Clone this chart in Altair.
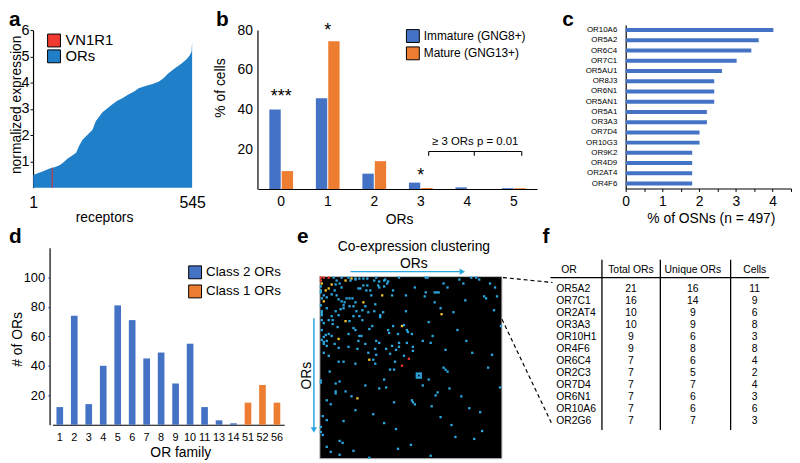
import altair as alt
import pandas as pd

FONT = "Liberation Sans"
W, H = 792, 455
M = 8


def X(v):
    return v - M


def Y(v):
    return v - M


# ---------------- panel a ----------------
a_receptor = [1, 12, 35, 57, 66, 74, 91, 103, 119, 131, 148, 159, 170, 187, 204, 215, 227, 238,
              255, 272, 289, 306, 328, 345, 362, 385, 407, 430, 447, 464, 486, 509, 526, 537, 543, 545]
a_expr = [0.48, 0.53, 0.63, 0.73, 0.76, 0.78, 0.86, 0.95, 1.11, 1.20, 1.33, 1.62, 1.83, 2.02, 2.21,
          2.53, 2.71, 2.88, 3.03, 3.18, 3.31, 3.41, 3.56, 3.66, 3.79, 3.88, 3.94, 4.04, 4.17, 4.36,
          4.55, 4.73, 4.90, 5.05, 5.18, 5.56]
a_legend = ["VN1R1", "ORs"]
a_vn1r1_receptor = [66]
a_vn1r1_expr = [0.76]

# ---------------- panel b ----------------
b_ors = ["0", "1", "2", "3", "4", "5"]
b_stage = ["Immature (GNG8+)", "Mature (GNG13+)"]
b_immature = [40.0, 45.7, 7.7, 3.2, 0.8, 0.4]
b_mature = [9.0, 74.4, 14.0, 0.5, 0.0, 0.4]
b_star_text = ["***", "*", "*"]
b_star_x = [0, 1, 3]
b_star_y = [43.7, 77.2, 4.1]
b_bracket_x = [3.17, 5.17]
b_bracket_ticks = [3.17, 4.15, 5.17]
b_bracket_y = [18.9, 16.7]
b_bracket_label = "\u2265 3 ORs p = 0.01"
b_bracket_label_pos = [4.17, 22.2]

# ---------------- panel c ----------------
c_or = ["OR10A6", "OR5A2", "OR6C4", "OR7C1", "OR5AU1", "OR8J3", "OR6N1", "OR5AN1",
        "OR5A1", "OR3A3", "OR7D4", "OR10G3", "OR9K2", "OR4D9", "OR2AT4", "OR4F6"]
c_pct = [4.02, 3.62, 3.42, 3.02, 2.62, 2.41, 2.41, 2.41, 2.21, 2.21, 2.01, 2.01, 1.81, 1.81, 1.81, 1.81]

# ---------------- panel d ----------------
d_family = ["1", "2", "3", "4", "5", "6", "7", "8", "9", "10", "11", "13", "14", "51", "52", "56"]
d_count = [12, 74, 14, 40, 81, 71, 45, 49, 28, 55, 12, 3, 1, 15, 27, 15]
d_class = ["Class 2 ORs"] * 13 + ["Class 1 ORs"] * 3
d_legend = ["Class 2 ORs", "Class 1 ORs"]

# ---------------- panel e (co-expression matrix, OR rank units) ----------------
heat_dots = [
    (1, 1, "high"), (4, 1, "high"), (9, 1, "high"), (14, 1, "low"), (22, 1, "low"), (29, 1, "low"),
    (32, 2, "mid"), (36, 2, "low"), (36, 3, "low"), (40, 2, "low"), (44, 2, "low"), (48, 2, "low"),
    (57, 1, "low"), (66, 3, "low"), (80, 1, "low"),
    (1, 4, "high"), (17, 4, "low"), (26, 4, "mid"), (31, 4, "low"), (55, 4, "low"), (60, 5, "low"),
    (65, 4, "low"), (69, 5, "low"),
    (2, 7, "mid"), (12, 8, "mid"), (16, 8, "low"), (20, 7, "low"), (44, 9, "low"), (48, 9, "low"),
    (59, 9, "low"), (68, 7, "low"),
    (1, 10, "low"), (9, 12, "mid"), (22, 11, "low"), (39, 12, "low"), (41, 12, "low"), (60, 11, "low"),
    (65, 10, "low"),
    (1, 14, "low"), (1, 16, "low"), (6, 14, "mid"), (15, 14, "low"), (47, 14, "low"), (51, 14, "low"),
    (74, 14, "low"),
    (4, 19, "low"), (12, 18, "low"), (17, 19, "low"), (52, 19, "low"), (63, 19, "mid"), (73, 19, "low"),
    (87, 19, "low"),
    (2, 22, "low"), (7, 21, "low"), (19, 23, "low"), (27, 22, "low"), (30, 22, "low"), (33, 22, "low"),
    (4, 25, "mid"), (22, 25, "low"), (25, 26, "low"), (36, 26, "low"), (44, 26, "mid"), (56, 28, "low"),
    (1, 29, "low"), (24, 29, "low"), (30, 30, "low"), (34, 30, "low"), (46, 30, "low"),
    (7, 32, "low"), (21, 33, "low"), (24, 32, "low"),
    (2, 35, "low"), (2, 37, "low"), (2, 39, "low"), (16, 35, "low"), (37, 35, "low"), (43, 34, "low"),
    (49, 36, "low"), (55, 35, "low"), (64, 36, "low"), (87, 35, "low"),
    (12, 40, "low"), (19, 39, "low"), (34, 40, "low"), (40, 40, "low"), (61, 39, "low"), (61, 41, "low"),
    (2, 44, "low"), (9, 44, "low"), (13, 44, "low"), (26, 45, "mid"), (30, 45, "low"), (43, 44, "low"),
    (4, 47, "low"), (13, 48, "low"), (85, 49, "low"),
    (18, 51, "low"), (34, 52, "low"), (53, 50, "low"), (74, 50, "low"), (83, 50, "mid"),
    (2, 54, "low"), (36, 54, "low"), (50, 53, "low"), (69, 54, "low"), (88, 54, "low"),
    (6, 59, "low"), (9, 58, "low"), (29, 58, "low"), (40, 60, "low"), (42, 60, "low"), (70, 57, "low"),
    (79, 58, "low"), (89, 56, "low"),
    (4, 61, "low"), (12, 60, "low"),
    (2, 64, "low"), (4, 66, "low"), (4, 68, "low"), (7, 65, "low"), (19, 63, "mid"), (15, 68, "low"),
    (39, 65, "low"), (57, 65, "low"),
    (7, 70, "low"), (29, 71, "low"), (46, 68, "low"), (60, 67, "low"), (73, 70, "low"), (80, 67, "low"),
    (88, 67, "low"),
    (19, 72, "low"), (38, 73, "low"), (56, 73, "low"), (67, 73, "low"), (77, 74, "low"), (80, 71, "low"),
    (4, 77, "low"), (49, 77, "low"), (57, 79, "low"), (71, 78, "low"),
    (9, 80, "low"), (85, 80, "low"), (90, 83, "high"),
    (50, 84, "mid"), (54, 84, "low"), (76, 86, "low"),
    (19, 86, "low"), (24, 86, "low"), (36, 88, "low"), (56, 88, "low"), (83, 90, "high"),
    (107, 1, "low"), (109, 1, "low"), (141, 3, "low"), (153, 1, "low"), (158, 1, "low"), (161, 3, "low"),
    (96, 11, "low"), (125, 7, "low"), (129, 11, "low"), (145, 7, "low"), (172, 7, "low"), (177, 11, "low"),
    (107, 16, "low"), (116, 16, "low"), (118, 16, "low"), (120, 16, "low"), (106, 20, "low"),
    (166, 20, "low"), (168, 22, "low"), (179, 20, "low"), (116, 26, "low"), (147, 24, "low"),
    (122, 32, "low"), (135, 36, "low"), (176, 34, "low"), (123, 38, "mid"), (110, 46, "low"),
    (139, 54, "low"), (183, 50, "low"), (93, 58, "low"), (114, 60, "low"), (104, 65, "low"),
    (112, 67, "low"), (148, 65, "low"), (94, 71, "low"), (94, 75, "low"), (127, 74, "low"),
    (154, 77, "low"), (174, 79, "low"), (170, 92, "low"),
    (10, 96, "low"), (71, 94, "low"), (75, 94, "low"), (1, 105, "low"), (1, 107, "low"), (20, 106, "low"),
    (16, 108, "low"), (16, 116, "low"), (16, 118, "low"), (26, 116, "low"), (46, 110, "low"),
    (65, 104, "low"), (60, 113, "low"), (67, 112, "low"), (32, 121, "low"), (38, 123, "mid"),
    (7, 125, "low"), (11, 129, "low"), (75, 127, "low"), (36, 135, "low"), (3, 141, "low"),
    (7, 145, "low"), (54, 139, "low"), (24, 146, "low"), (65, 148, "low"), (77, 154, "low"),
    (1, 152, "low"), (1, 157, "low"), (3, 160, "low"), (20, 166, "low"), (23, 168, "low"),
    (7, 172, "low"), (11, 177, "low"), (20, 180, "low"), (34, 176, "low"), (79, 174, "low"),
    (50, 183, "low"), (92, 170, "low"),
    (98, 98, "low"), (100, 98, "low"), (102, 98, "low"), (98, 100, "low"), (102, 100, "low"),
    (98, 102, "low"), (100, 102, "low"), (102, 102, "low"),
    (125, 92, "low"), (127, 94, "low"), (129, 96, "low"), (110, 104, "low"), (104, 110, "low"),
    (182, 112, "low"), (119, 117, "low"), (117, 120, "low"), (131, 113, "low"), (143, 121, "low"),
    (93, 125, "low"), (94, 127, "low"), (96, 129, "low"), (113, 131, "low"), (151, 133, "low"),
    (162, 137, "low"), (122, 142, "low"), (133, 150, "low"), (164, 156, "low"), (137, 162, "low"),
    (156, 164, "low"), (112, 181, "low"),
]
heat_x = [d[0] for d in heat_dots]
heat_y = [d[1] for d in heat_dots]
heat_level = [d[2] for d in heat_dots]
heat_levels = ["low", "mid", "high"]

# ---------------- panel f ----------------
f_cols = ["OR", "Total ORs", "Unique ORs", "Cells"]
f_or = ["OR5A2", "OR7C1", "OR2AT4", "OR3A3", "OR10H1", "OR4F6", "OR6C4", "OR2C3", "OR7D4",
        "OR6N1", "OR10A6", "OR2G6"]
f_total = [21, 16, 10, 10, 9, 9, 7, 7, 7, 7, 7, 7]
f_unique = [16, 14, 9, 9, 6, 8, 6, 5, 7, 6, 6, 7]
f_cells = [11, 9, 6, 8, 3, 8, 4, 2, 4, 3, 6, 3]

BLUE = "#4472c4"
ORANGE = "#ed7d31"
CYAN = "#2ba6de"


def ax(**kw):
    base = dict(grid=False, domainColor="black", domainWidth=1.2, labelColor="black",
                titleColor="black", labelFont=FONT, titleFont=FONT, titleFontWeight="normal",
                labelOverlap=False)
    base.update(kw)
    return alt.Axis(**base)


def leg(x, y, size, pad):
    return alt.Legend(orient="none", legendX=X(x), legendY=Y(y), title=None, symbolType="square",
                      symbolSize=169, symbolStrokeColor="black", symbolStrokeWidth=1,
                      symbolOpacity=1, labelFontSize=size, labelFont=FONT, labelColor="black",
                      rowPadding=pad, padding=0, labelOffset=4, labelLimit=300)


layers = []

# ===== a =====
a_xs = alt.Scale(domain=[1, 545], range=[X(33.5), X(194)], nice=False, zero=False)
a_ys = alt.Scale(domain=[0, 6], range=[Y(187.2), Y(28.2)], nice=False)
dfa = pd.DataFrame({"receptor": a_receptor, "expr": a_expr, "kind": ["ORs"] * len(a_receptor)})
layers.append(
    alt.Chart(dfa).mark_area(interpolate="linear").encode(
        x=alt.X("receptor:Q", scale=a_xs,
                axis=ax(orient="bottom", offset=Y(187.2) - H, values=[1, 545], ticks=False, tickSize=0,
                        domain=False, labelPadding=7, labelFontSize=16, labelFlush=False,
                        title="receptors", titleFontSize=14, titleX=X(105), titleY=34,
                        titleBaseline="alphabetic", titleAlign="center")),
        y=alt.Y("expr:Q", scale=a_ys,
                axis=ax(orient="left", offset=-X(33.3), values=[1, 2, 3, 4, 5, 6], tickSize=3,
                        tickColor="black", labelPadding=1, labelFontSize=14.5,
                        title="normalized expression", titleFontSize=14, titleX=-9.3, titleY=Y(103),
                        titleAngle=270, titleBaseline="bottom", titleAlign="center")),
        color=alt.Color("kind:N", scale=alt.Scale(domain=a_legend, range=["#f03a30", "#1f7fc9"]),
                        legend=leg(47, 31, 15, -1)),
    )
)
layers.append(
    alt.Chart(pd.DataFrame({"receptor": a_vn1r1_receptor, "expr": a_vn1r1_expr}))
    .mark_rule(color="#c23a45", strokeWidth=1.2)
    .encode(x=alt.X("receptor:Q", scale=a_xs, axis=None),
            y=alt.Y("expr:Q", scale=a_ys, axis=None),
            y2=alt.datum(0))
)

# ===== b =====
rows = []
for i, o in enumerate(b_ors):
    rows.append({"ors": o, "stage": b_stage[0], "pct": b_immature[i]})
    rows.append({"ors": o, "stage": b_stage[1], "pct": b_mature[i]})
dfb = pd.DataFrame(rows)
b_xs = alt.Scale(domain=b_ors, range=[X(260.5), X(542.5)], paddingInner=0.49, paddingOuter=0.245)
b_ys = alt.Scale(domain=[0, 80], range=[Y(188.5), Y(28)], nice=False)
b_ann_xs = alt.Scale(domain=[-0.5, 5.5], range=[X(260.5), X(542.5)], nice=False, zero=False)
layers.append(
    alt.Chart(dfb).mark_bar().encode(
        x=alt.X("ors:N", sort=b_ors, scale=b_xs,
                axis=ax(orient="bottom", offset=Y(188.5) - H, ticks=False, tickSize=0, labelAngle=0,
                        labelPadding=6, labelFontSize=14, title="ORs", titleFontSize=14,
                        titleX=X(403), titleY=34.5, titleBaseline="alphabetic", titleAlign="center")),
        xOffset=alt.XOffset("stage:N", sort=b_stage, scale=alt.Scale(domain=b_stage, paddingInner=0.08)),
        y=alt.Y("pct:Q", scale=b_ys,
                axis=ax(orient="left", offset=-X(260), values=[20, 40, 60, 80], ticks=False, tickSize=0,
                        labelPadding=5, labelFontSize=14, title="% of cells", titleFontSize=14,
                        titleX=-30, titleY=Y(86), titleAngle=270, titleBaseline="bottom",
                        titleAlign="center")),
        color=alt.Color("stage:N", scale=alt.Scale(domain=b_stage, range=[BLUE, ORANGE]),
                        legend=leg(410, 27, 12, -0.5)),
    )
)
layers.append(
    alt.Chart(pd.DataFrame({"x": b_star_x, "y": b_star_y, "t": b_star_text}))
    .mark_text(fontSize=18, font=FONT, baseline="alphabetic", align="center", color="black")
    .encode(x=alt.X("x:Q", scale=b_ann_xs, axis=None), y=alt.Y("y:Q", scale=b_ys, axis=None), text="t:N")
)
layers.append(
    alt.Chart(pd.DataFrame({"x": [b_bracket_x[0]], "x2": [b_bracket_x[1]], "y": [b_bracket_y[0]]}))
    .mark_rule(color="black", strokeWidth=1.1)
    .encode(x=alt.X("x:Q", scale=b_ann_xs, axis=None), x2="x2:Q", y=alt.Y("y:Q", scale=b_ys, axis=None))
)
layers.append(
    alt.Chart(pd.DataFrame({"x": b_bracket_ticks, "y": [b_bracket_y[0]] * 3, "y2": [b_bracket_y[1]] * 3}))
    .mark_rule(color="black", strokeWidth=1.1)
    .encode(x=alt.X("x:Q", scale=b_ann_xs, axis=None), y=alt.Y("y:Q", scale=b_ys, axis=None), y2="y2:Q")
)
layers.append(
    alt.Chart(pd.DataFrame({"x": [b_bracket_label_pos[0]], "y": [b_bracket_label_pos[1]], "t": [b_bracket_label]}))
    .mark_text(fontSize=11.5, font=FONT, baseline="alphabetic", align="center", color="black")
    .encode(x=alt.X("x:Q", scale=b_ann_xs, axis=None), y=alt.Y("y:Q", scale=b_ys, axis=None), text="t:N")
)

# ===== c =====
dfc = pd.DataFrame({"or": c_or, "pct": c_pct})
c_xs = alt.Scale(domain=[0, 4.5], range=[X(632), X(799)], nice=False)
c_ys = alt.Scale(domain=c_or, range=[Y(22.8), Y(188.2)], paddingInner=0.61, paddingOuter=0.305)
layers.append(
    alt.Chart(dfc).mark_bar(color=BLUE).encode(
        y=alt.Y("or:N", sort=c_or, scale=c_ys,
                axis=ax(orient="left", offset=-X(632), ticks=False, tickSize=0, labelPadding=9,
                        labelFontSize=8, title=None)),
        x=alt.X("pct:Q", scale=c_xs,
                axis=ax(orient="bottom", offset=Y(188) - H,
                        values=[0, 0.5, 1, 1.5, 2, 2.5, 3, 3.5, 4, 4.5], tickSize=3, tickColor="black",
                        labelExpr="datum.value % 1 == 0 ? format(datum.value, 'd') : ''", labelPadding=3,
                        labelFontSize=14, labelFlush=False, title="% of OSNs (n = 497)",
                        titleFontSize=14, titleX=X(718), titleY=34, titleBaseline="alphabetic",
                        titleAlign="center")),
    )
)

# ===== d =====
dfd = pd.DataFrame({"family": d_family, "count": d_count, "cls": d_class})
d_xs = alt.Scale(domain=d_family, range=[X(53), X(287)], paddingInner=0.54, paddingOuter=0.27)
d_ys = alt.Scale(domain=[0, 120], range=[Y(426.7), Y(248)], nice=False)
layers.append(
    alt.Chart(dfd).mark_bar().encode(
        x=alt.X("family:N", sort=d_family, scale=d_xs,
                axis=ax(orient="bottom", offset=Y(426.7) - H, ticks=False, tickSize=0, labelAngle=0,
                        labelPadding=7, labelFontSize=11, title="OR family", titleFontSize=14,
                        titleX=X(182), titleY=32, titleBaseline="alphabetic", titleAlign="center")),
        y=alt.Y("count:Q", scale=d_ys,
                axis=ax(orient="left", offset=-X(50), values=[20, 40, 60, 80, 100], tickSize=2,
                        tickColor=BLUE, labelPadding=3, labelFontSize=13, title="# of ORs",
                        titleFontSize=14, titleX=-25.8, titleY=Y(340), titleAngle=270,
                        titleBaseline="bottom", titleAlign="center")),
        color=alt.Color("cls:N", scale=alt.Scale(domain=d_legend, range=[BLUE, ORANGE]),
                        legend=leg(190, 265.7, 13.5, 1.3)),
    )
)

# ===== e =====
e_xs = alt.Scale(domain=[0, 184], range=[X(323), X(507)], nice=False, zero=False)
e_ys = alt.Scale(domain=[0, 184], range=[Y(277), Y(461)], nice=False, zero=False)
layers.append(
    alt.Chart(pd.DataFrame({"k": [0]})).mark_rect(fill="black", stroke="#c4c4c4", strokeWidth=1).encode(
        x=alt.X(datum=0, type="quantitative", scale=e_xs, axis=None), x2=alt.datum(184),
        y=alt.Y(datum=0, type="quantitative", scale=e_ys, axis=None), y2=alt.datum(184))
)
layers.append(
    alt.Chart(pd.DataFrame({"h": heat_x, "v": heat_y, "lvl": heat_level}))
    .mark_square(size=5.5, opacity=1, strokeWidth=0)
    .encode(x=alt.X("h:Q", scale=e_xs, axis=None), y=alt.Y("v:Q", scale=e_ys, axis=None),
            color=alt.Color("lvl:N", scale=alt.Scale(domain=heat_levels, range=[CYAN, "#f4c430", "#e8392b"]),
                            legend=None))
)
# arrows & labels
layers.append(alt.Chart().mark_rule(color=CYAN, strokeWidth=1.5).encode(
    x=alt.value(X(354)), x2=alt.value(X(466)), y=alt.value(Y(272))))
layers.append(alt.Chart().mark_point(shape="triangle-right", filled=True, size=40, color=CYAN, opacity=1).encode(
    x=alt.value(X(467)), y=alt.value(Y(272))))
layers.append(alt.Chart().mark_rule(color=CYAN, strokeWidth=1.5).encode(
    x=alt.value(X(317)), y=alt.value(Y(319)), y2=alt.value(Y(431))))
layers.append(alt.Chart().mark_point(shape="triangle-down", filled=True, size=40, color=CYAN, opacity=1).encode(
    x=alt.value(X(317)), y=alt.value(Y(432))))
layers.append(alt.Chart().mark_text(text="Co-expression clustering", fontSize=14, font=FONT,
                                    baseline="alphabetic", align="center", color="black").encode(
    x=alt.value(X(418)), y=alt.value(Y(251))))
layers.append(alt.Chart().mark_text(text="ORs", fontSize=14, font=FONT, baseline="alphabetic",
                                    align="center", color="black").encode(
    x=alt.value(X(418)), y=alt.value(Y(268))))
layers.append(alt.Chart().mark_text(text="ORs", fontSize=14, font=FONT, baseline="middle", align="center",
                                    angle=270, color="black").encode(
    x=alt.value(X(310)), y=alt.value(Y(377))))

# dashed connectors
layers.append(alt.Chart().mark_rule(color="black", strokeWidth=1.2, strokeDash=[4, 3]).encode(
    x=alt.value(X(508)), y=alt.value(Y(278)), x2=alt.value(X(558)), y2=alt.value(Y(283))))
layers.append(alt.Chart().mark_rule(color="black", strokeWidth=1.2, strokeDash=[4, 3]).encode(
    x=alt.value(X(507)), y=alt.value(Y(320)), x2=alt.value(X(557)), y2=alt.value(Y(425))))

# ===== f (table) =====
f_xs = alt.Scale(type="point", domain=f_cols, range=[X(574.8), X(762.3)], padding=0)
f_ys = alt.Scale(type="point", domain=f_or, range=[Y(293), Y(426)], padding=0)
cells = []
for i, o in enumerate(f_or):
    cells.append({"or": o, "col": "Total ORs", "val": str(f_total[i])})
    cells.append({"or": o, "col": "Unique ORs", "val": str(f_unique[i])})
    cells.append({"or": o, "col": "Cells", "val": str(f_cells[i])})
layers.append(
    alt.Chart(pd.DataFrame(cells)).mark_text(fontSize=10.5, font=FONT, baseline="alphabetic", align="center",
                                             color="black")
    .encode(x=alt.X("col:N", scale=f_xs, axis=None), y=alt.Y("or:N", scale=f_ys, axis=None), text="val:N")
)
layers.append(
    alt.Chart(pd.DataFrame({"or": f_or, "col": ["OR"] * len(f_or)}))
    .mark_text(fontSize=10.5, font=FONT, baseline="alphabetic", align="left", dx=-13, color="black")
    .encode(x=alt.X("col:N", scale=f_xs, axis=None), y=alt.Y("or:N", scale=f_ys, axis=None), text="or:N")
)
layers.append(
    alt.Chart(pd.DataFrame({"col": f_cols}))
    .mark_text(fontSize=10.5, font=FONT, baseline="alphabetic", align="center", color="black")
    .encode(x=alt.X("col:N", scale=f_xs, axis=None), y=alt.value(Y(273)), text="col:N")
)
layers.append(alt.Chart().mark_rule(color="black", strokeWidth=1.3).encode(
    x=alt.value(X(556)), x2=alt.value(X(777)), y=alt.value(Y(278))))
for vx in (608, 667, 738):
    layers.append(alt.Chart().mark_rule(color="black", strokeWidth=1.3).encode(
        x=alt.value(X(vx)), y=alt.value(Y(260)), y2=alt.value(Y(432))))

# ===== panel letters =====
for letter, lx, ly in [("a", 9, 24), ("b", 218, 24), ("c", 568, 24), ("d", 9, 243), ("e", 300, 243),
                       ("f", 548, 243)]:
    layers.append(alt.Chart().mark_text(text=letter, fontSize=21, fontWeight="bold", font=FONT,
                                        baseline="alphabetic", align="left", color="black").encode(
        x=alt.value(X(lx)), y=alt.value(Y(ly))))

chart = (
    alt.layer(*layers)
    .resolve_scale(x="independent", y="independent", color="independent")
    .properties(width=W, height=H, padding=0, autosize=alt.AutoSizeParams(type="none"))
    .configure(font=FONT)
    .configure_view(stroke=None)
)

chart.save("out.html", embed_options={"renderer": "svg", "actions": False})
